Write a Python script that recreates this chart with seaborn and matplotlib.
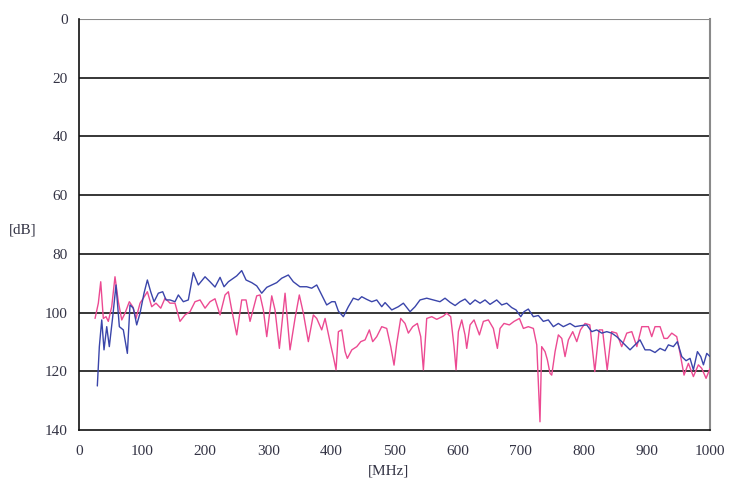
import numpy as np
import pandas as pd
import matplotlib
matplotlib.use("Agg")
import matplotlib.pyplot as plt
import seaborn as sns

# blue trace (frequency in MHz, level in dB)
blue_mhz = [29, 32.2, 36, 39.6, 43.9, 48, 53.4, 58.6, 63.9, 70.2, 76.6, 80.8, 86.1,
            91.4, 96.7, 103, 108.3, 113.6, 118.9, 125.7, 132.6, 137.9, 144.2, 152.1,
            157.4, 165.3, 173.2, 181.1, 189, 199.7, 207.6, 215.5, 223.5, 229.8, 236.7,
            244.6, 249.9, 257.8, 264.7, 273.7, 281.6, 289.5, 297.5, 305.4, 313.3,
            321.2, 331.7, 339.6, 350, 360.8, 368.7, 376.7, 384.6, 392.5, 400.5, 405.7,
            411, 418.9, 426.8, 434.7, 442.6, 448, 455.9, 463.9, 471.8, 479.7, 485,
            495.6, 506, 514, 524.6, 532.5, 540.4, 551, 561.5, 572, 580, 588, 596,
            603.8, 611.7, 619.7, 627.6, 635.5, 643.4, 651.3, 661.9, 669.9, 677.8,
            685.7, 692.6, 700, 705.2, 712, 720, 727.9, 735.8, 743.7, 751.7, 759.6,
            767.5, 778.1, 786, 794, 804.6, 812.5, 820.4, 828.4, 836.3, 844.2, 852.1,
            860, 868, 873.2, 881.1, 889, 897, 904.9, 912.8, 920.8, 928.7, 934, 941.9,
            948.2, 955.2, 962, 968.3, 973.6, 980, 985.3, 989.5, 994.8, 1000]
blue_db = [125, 111.6, 102.5, 112.7, 104.8, 111.6, 101.4, 90.6, 104.8, 105.9, 113.9,
           97.4, 98.5, 104.2, 100.2, 93.4, 88.9, 92.9, 96.3, 93.4, 92.9, 95.7, 95.7,
           96.3, 94, 96.3, 95.7, 86.4, 90.6, 87.8, 89.5, 91.3, 88, 91.2, 89.5, 88.3,
           87.5, 85.7, 88.9, 89.8, 90.9, 93.4, 91.4, 90.6, 89.8, 88.3, 87.2, 89.5,
           91.2, 91.2, 91.7, 90.6, 94, 97.4, 96.3, 96.3, 99.5, 101.4, 98, 95.1, 95.7,
           94.6, 95.5, 96.3, 95.7, 98, 96.6, 99.1, 98, 96.8, 99.7, 98, 95.7, 95.1,
           95.7, 96.3, 95.1, 96.5, 97.6, 96.3, 95.4, 97.2, 95.7, 96.8, 95.7, 97.2,
           95.7, 97.4, 96.8, 98.3, 99.1, 101.4, 99.7, 98.8, 101.4, 101, 103, 102.5,
           104.8, 103.7, 104.8, 103.7, 104.8, 104.5, 104.2, 106.5, 105.9, 107, 106.5,
           107, 108.2, 109.9, 111.6, 112.7, 111, 109.3, 112.7, 112.7, 113.6, 112.2,
           113, 111, 111.6, 109.9, 115, 116.4, 115.6, 119.5, 113.3, 115, 117.8,
           113.9, 115]

# pink trace
pink_mhz = [25.4, 30.6, 34.4, 38.5, 42.8, 46.4, 51.8, 57, 62.3, 67.7, 72.9, 79.7,
            85.1, 90.3, 96.7, 101.9, 108.3, 115.2, 122, 129.5, 136.3, 144.2, 152.1,
            160, 168, 175.9, 183.8, 191.8, 199.7, 207.6, 215.5, 223.5, 231.4, 236.7,
            242, 249.9, 257.8, 264.7, 271, 281.6, 286.8, 292.1, 297.5, 305.4, 310.6,
            317.5, 326.5, 334.4, 342.3, 349.1, 355.5, 363.4, 371.3, 376.7, 384.6,
            389.9, 397.8, 403, 407.3, 411, 416.3, 421.6, 425.2, 432.3, 440.2, 446.5,
            453.3, 460.1, 465.4, 471.8, 479.7, 487.6, 494, 499.2, 503.5, 509.8, 516.6,
            521.9, 528.8, 536.2, 541.5, 545.7, 551, 559, 566.9, 577.3, 582.7, 589,
            594.3, 597.5, 601.2, 606.5, 611.7, 614.4, 619.7, 626, 634.5, 640.8, 648.7,
            656.6, 663, 667.2, 673.5, 682, 689.4, 697.9, 704.2, 712, 720, 725.4,
            730.5, 733.2, 738.5, 742.2, 746.4, 749.1, 754.4, 759.6, 765, 770.2, 775.5,
            782.4, 788.8, 794.6, 801.9, 809.5, 817.4, 824.2, 829.6, 837, 844, 852,
            860, 868, 876, 884, 891.8, 902.3, 907.6, 912.8, 920.8, 927.1, 932.4,
            939.3, 947.2, 952.5, 958.8, 965.7, 973.6, 981.5, 986.8, 993.7, 1000]
pink_db = [102, 96.8, 89.5, 102, 101.4, 103, 98, 87.8, 96.3, 102.5, 100.2, 96.3, 98,
           102, 96.8, 95.1, 92.9, 98, 96.8, 98.5, 95.1, 96.8, 96.8, 103, 100.8, 99.7,
           96.3, 95.7, 98.5, 96.3, 95.3, 100.8, 94, 92.9, 99.1, 107.6, 95.7, 95.7,
           103, 94.3, 94, 99.1, 108.2, 94.3, 99.1, 112.2, 93.4, 112.7, 102, 94, 100.2,
           109.9, 100.8, 102, 105.9, 102, 110, 115, 119.5, 106.5, 105.9, 113.3, 115.6,
           112.7, 111.6, 109.9, 109.3, 105.9, 109.9, 108.2, 104.8, 105.4, 111.6,
           117.9, 110.5, 102, 103.7, 107, 104.8, 103.7, 108.2, 119.5, 102, 101.4,
           102.3, 101.2, 100.2, 101.4, 111.6, 119.5, 106.5, 102.5, 107.6, 112.2,
           104.2, 102.5, 107.6, 103, 102.5, 105.4, 112.2, 105.4, 103.7, 104.2, 103,
           102, 105.4, 104.8, 105.4, 111, 137.2, 111.6, 113.3, 116.1, 120.7, 121.3,
           113.3, 107.6, 108.8, 115, 109.3, 106.5, 109.9, 105.9, 103.7, 104.2, 120.1,
           105.9, 105.9, 119.5, 106.5, 107, 111.6, 107, 106.5, 111.6, 104.8, 104.8,
           108.2, 104.8, 104.8, 108.8, 108.8, 107, 108.2, 113.9, 121.3, 117.3, 121.8,
           117.8, 119, 122.4, 119]

y_ticks = [0, 20, 40, 60, 80, 100, 120, 140]
x_ticks = [0, 100, 200, 300, 400, 500, 600, 700, 800, 900, 1000]

df_blue = pd.DataFrame({"MHz": blue_mhz, "dB": blue_db})
df_pink = pd.DataFrame({"MHz": pink_mhz, "dB": pink_db})

sns.set_style("white")
plt.rcParams["font.family"] = ["Liberation Serif", "DejaVu Serif"]

fig = plt.figure(figsize=(7.29, 4.79), dpi=100)
ax = fig.add_axes([0.1084, 0.1023, 0.8656, 0.858])

# horizontal grid, drawn by hand so the top one can stay grey
for y in y_ticks[1:-1]:
    ax.axhline(y, color="#262626", lw=1.3, zorder=1)
ax.axhline(0, color="#8a8a8a", lw=1.5, zorder=1)

sns.lineplot(data=df_pink, x="MHz", y="dB", ax=ax, color="#ec4a92", lw=1.0,
             zorder=3)
sns.lineplot(data=df_blue, x="MHz", y="dB", ax=ax, color="#3a45aa", lw=1.0,
             zorder=4)

ax.set_xlim(0, 1000)
ax.set_ylim(140, 0)
ax.set_xticks(x_ticks)
ax.set_yticks(y_ticks)
ax.tick_params(axis="y", direction="out", length=5, width=1, color="#333333",
               labelsize=11, labelcolor="#333344", pad=3)
ax.tick_params(axis="x", direction="inout", length=5, width=1, color="#333333",
               labelsize=11, labelcolor="#333344", pad=8)

for side in ["left", "bottom"]:
    ax.spines[side].set_color("#111111")
    ax.spines[side].set_linewidth(1.2)
ax.spines["right"].set_color("#8a8a8a")
ax.spines["right"].set_linewidth(1.5)
ax.spines["top"].set_visible(False)

ax.set_ylabel("[dB]", rotation=0, fontsize=11, color="#333344")
ax.yaxis.set_label_coords(-0.09, 0.47)
ax.set_xlabel("[MHz]", fontsize=11, color="#333344")
ax.xaxis.set_label_coords(0.49, -0.083)

fig.savefig("out.png", dpi=100)
